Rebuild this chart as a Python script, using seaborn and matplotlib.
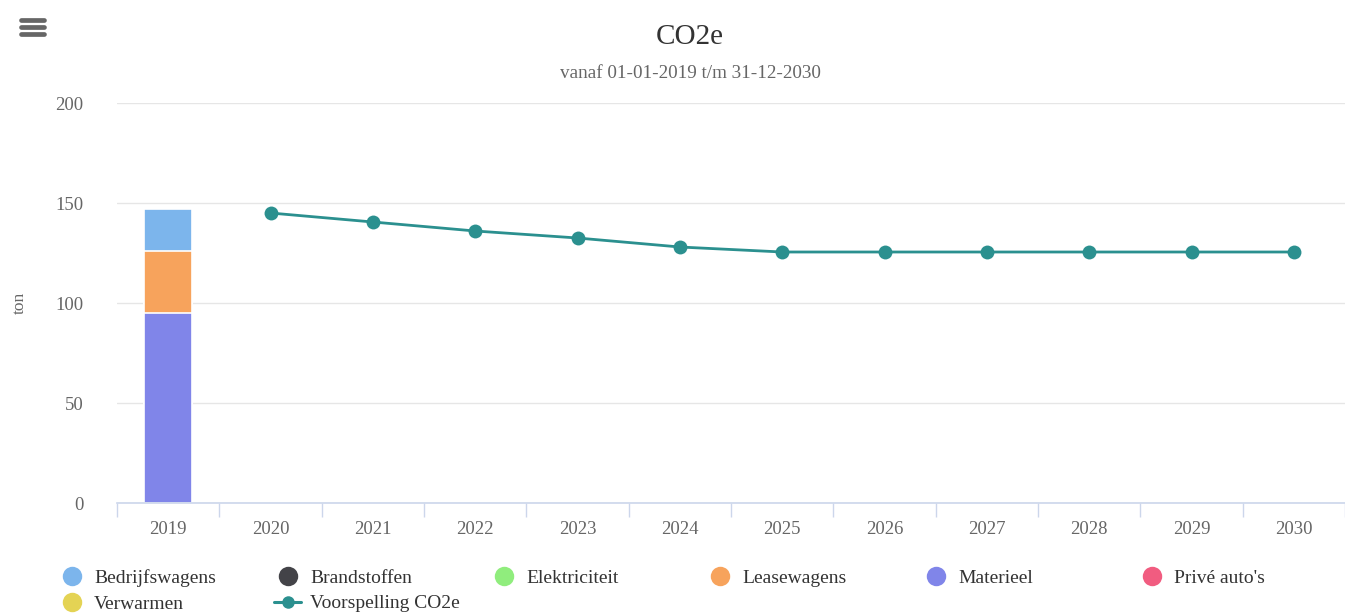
import numpy as np
import matplotlib
matplotlib.use("Agg")
import matplotlib.pyplot as plt
from matplotlib.lines import Line2D
import seaborn as sns
import pandas as pd

# Data
years = ['2019', '2020', '2021', '2022', '2023', '2024', '2025', '2026',
         '2027', '2028', '2029', '2030']
materieel = [95, None, None, None, None, None, None, None, None, None, None, None]
leasewagens = [31, None, None, None, None, None, None, None, None, None, None, None]
bedrijfswagens = [21, None, None, None, None, None, None, None, None, None, None, None]
forecast_years = ['2020', '2021', '2022', '2023', '2024', '2025', '2026',
                  '2027', '2028', '2029', '2030']
forecast = [145, 140.5, 136, 132.5, 128, 125.5, 125.5, 125.5, 125.5, 125.5, 125.5]

legend_names = ['Bedrijfswagens', 'Brandstoffen', 'Elektriciteit', 'Leasewagens',
                'Materieel', "Privé auto's", 'Verwarmen', 'Voorspelling CO2e']
colors = {
    'Bedrijfswagens': '#7cb5ec', 'Brandstoffen': '#434348', 'Elektriciteit': '#90ed7d',
    'Leasewagens': '#f7a35c', 'Materieel': '#8085e9', "Privé auto's": '#f15c80',
    'Verwarmen': '#e4d354', 'Voorspelling CO2e': '#2b908f',
}

sns.set_theme(style='white')
plt.rcParams['font.family'] = ['Liberation Serif', 'DejaVu Serif']

fig = plt.figure(figsize=(13.45, 6.14), dpi=100)
ax = fig.add_axes([117 / 1345, 1 - 503 / 614, 1228 / 1345, 400 / 614])

# stacked bar: draw cumulative totals from top down
df = pd.DataFrame({'year': years, 'Materieel': materieel,
                   'Leasewagens': leasewagens, 'Bedrijfswagens': bedrijfswagens})
df = df.fillna(np.nan).astype({'Materieel': float, 'Leasewagens': float, 'Bedrijfswagens': float})
stack = ['Materieel', 'Leasewagens', 'Bedrijfswagens']
cum = df[stack].cumsum(axis=1)
for name in reversed(stack):
    sns.barplot(x=df['year'], y=cum[name], order=years, color=colors[name],
                width=0.47, edgecolor='white', linewidth=1.2, saturation=1,
                errorbar=None, ax=ax, zorder=2)

# forecast line on the category positions
pos = [years.index(y) for y in forecast_years]
line_df = pd.DataFrame({'pos': pos, 'value': forecast})
sns.lineplot(data=line_df, x='pos', y='value', color=colors['Voorspelling CO2e'],
             linewidth=2, marker='o', markersize=10, markeredgewidth=0, ax=ax, zorder=3)

ax.set_xlim(-0.5, len(years) - 0.5)
ax.set_ylim(0, 200)
ax.set_yticks([0, 50, 100, 150, 200])
ax.set_yticklabels(['0', '50', '100', '150', '200'])
ax.set_xticks(np.arange(-0.5, len(years), 1))
ax.set_xticklabels([])
ax.set_xticks(np.arange(len(years)), minor=True)
ax.set_xticklabels(years, minor=True)
ax.tick_params(axis='x', which='major', bottom=True, length=10, width=1,
               color='#ccd6eb', direction='out')
ax.tick_params(axis='x', which='minor', bottom=True, length=0, pad=13,
               labelsize=13.5, labelcolor='#666666')
ax.tick_params(axis='y', left=False, length=0, pad=24, labelsize=13.5, labelcolor='#666666')
ax.grid(axis='y', color='#e6e6e6', linewidth=1)
ax.set_axisbelow(True)
for s in ['top', 'right', 'left']:
    ax.spines[s].set_visible(False)
ax.spines['bottom'].set_color('#ccd6eb')
ax.spines['bottom'].set_linewidth(1.2)
ax.set_xlabel('')
ax.set_ylabel('')
if ax.get_legend():
    ax.get_legend().remove()

fig.text(20 / 1345, 1 - 303 / 614, 'ton', rotation=90, ha='center', va='center',
         fontsize=12.5, color='#666666')
fig.text(690 / 1345, 1 - 37 / 614, 'CO2e', ha='center', va='center',
         fontsize=21, color='#333333')
fig.text(690 / 1345, 1 - 73 / 614, 'vanaf 01-01-2019 t/m 31-12-2030', ha='center',
         va='center', fontsize=13.8, color='#666666')

# hamburger menu icon
for yy in [20, 27, 34]:
    fig.add_artist(Line2D([21 / 1345, 44 / 1345], [1 - yy / 614, 1 - yy / 614],
                          color='#666666', linewidth=3.4, solid_capstyle='round'))

# legend in 6 fixed-width columns, row-major like the original
col_x = [58, 274, 490, 706, 922, 1138]
for c, x0 in enumerate(col_x):
    handles, labels = [], []
    for idx in (c, c + 6):
        if idx >= len(legend_names):
            continue
        name = legend_names[idx]
        if name == 'Voorspelling CO2e':
            h = Line2D([], [], color=colors[name], linewidth=2.2, marker='o',
                       markersize=9, markeredgewidth=0)
        else:
            h = Line2D([], [], color=colors[name], linestyle='none', marker='o',
                       markersize=14, markeredgewidth=0)
        handles.append(h)
        labels.append(name)
    leg = fig.legend(handles, labels, loc='upper left',
                     bbox_to_anchor=(x0 / 1345, 1 - 569 / 614), frameon=False,
                     fontsize=14, handlelength=1.4, handletextpad=0.45,
                     labelspacing=0.42, borderpad=0, borderaxespad=0)
    for t in leg.get_texts():
        t.set_color('#333333')

fig.savefig('out.png', dpi=100, facecolor='white')
